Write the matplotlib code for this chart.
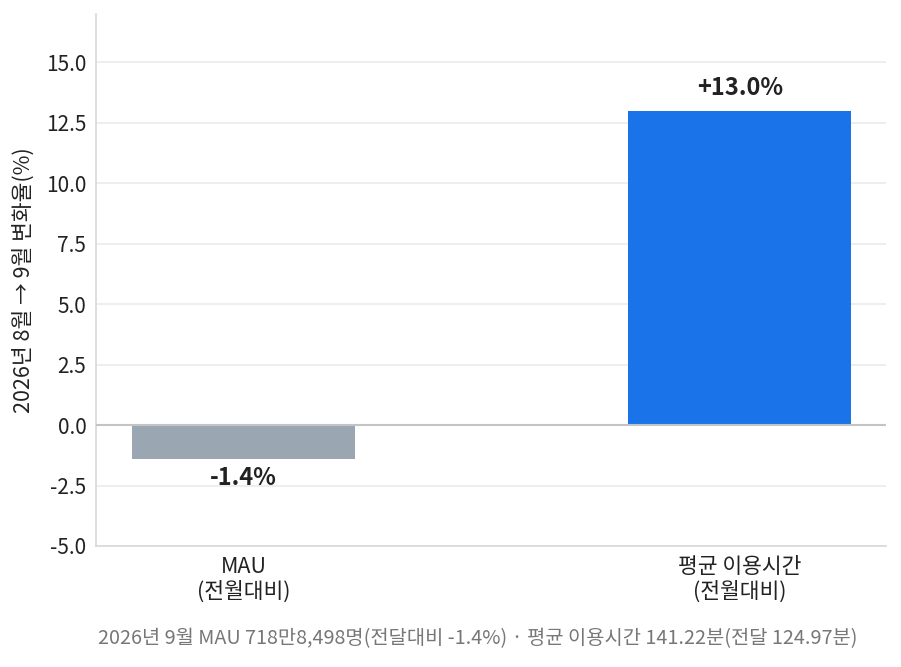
import matplotlib
matplotlib.use("Agg")
import matplotlib.pyplot as plt

plt.rcParams['font.family'] = ['Noto Sans CJK KR', 'DejaVu Sans']

categories = ["MAU\n(전월대비)", "평균 이용시간\n(전월대비)"]
values = [-1.4, 13.0]
labels = ["-1.4%", "+13.0%"]
colors = ["#9AA6B2", "#1A73E8"]
yticks = [-5.0, -2.5, 0.0, 2.5, 5.0, 7.5, 10.0, 12.5, 15.0]
ylabel = "2026년 8월 → 9월 변화율(%)"
footer = "2026년 9월 MAU 718만8,498명(전달대비 -1.4%) · 평균 이용시간 141.22분(전달 124.97분)"

fig = plt.figure(figsize=(9.01, 6.67), dpi=100)
ax = fig.add_axes([96/901, 1-546/667, (886-96)/901, (546-14)/667])

x = list(range(len(categories)))
ax.bar(x, values, width=0.45, color=colors, zorder=2)
ax.axhline(0, color="#c4c4c4", lw=1.5, zorder=3)

for xi, v, lab in zip(x, values, labels):
    if v >= 0:
        ax.text(xi, v + 0.45, lab, ha="center", va="bottom", fontsize=17, fontweight="bold", color="#222222")
    else:
        ax.text(xi, v - 0.3, lab, ha="center", va="top", fontsize=17, fontweight="bold", color="#222222")

ax.set_xlim(-0.298, 1.295)
ax.set_ylim(-5, 17.0)
ax.set_yticks(yticks)
ax.set_yticklabels([f"{t:.1f}" for t in yticks], fontsize=15, color="#222222")
ax.set_xticks(x)
ax.set_xticklabels(categories, fontsize=15.5, color="#222222", linespacing=1.15)
ax.tick_params(axis="both", length=0, pad=7)
ax.set_ylabel(ylabel, fontsize=15.5, color="#222222", labelpad=8)

ax.grid(axis="y", color="#ebebeb", lw=1.2, zorder=0)
ax.set_axisbelow(True)
for s in ["top", "right"]:
    ax.spines[s].set_visible(False)
ax.spines["left"].set_color("#d8d8d8")
ax.spines["bottom"].set_color("#d8d8d8")
ax.spines["left"].set_linewidth(1.2)
ax.spines["bottom"].set_linewidth(1.2)

fig.text(478/901, 1-639/667, footer, ha="center", va="center", fontsize=14.25, color="#777777")

fig.savefig("out.png", dpi=100)
